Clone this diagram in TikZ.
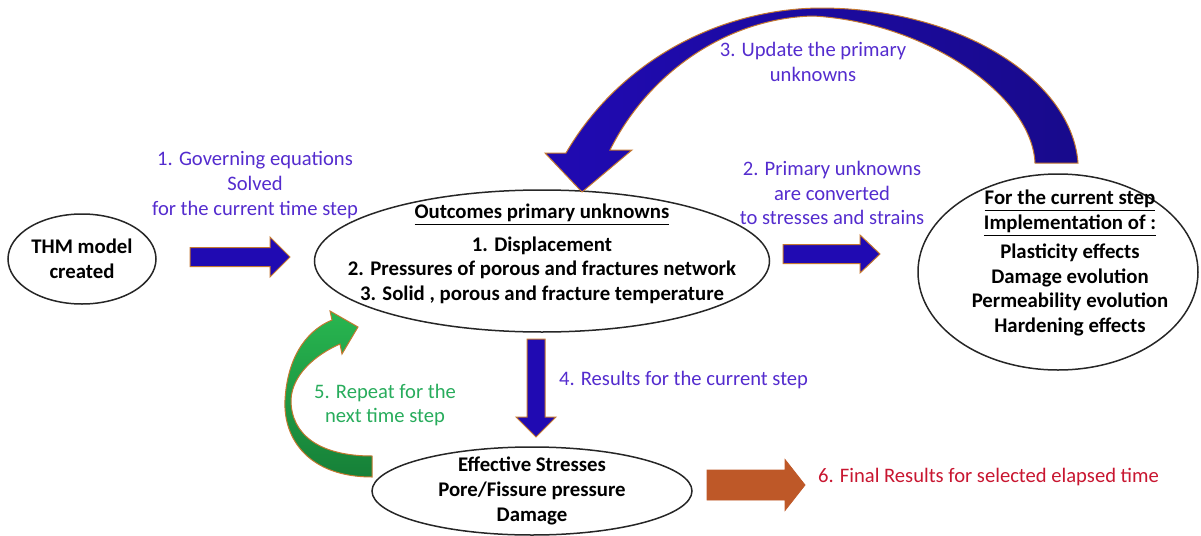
\documentclass[tikz,border=0pt]{standalone}
\usepackage{fontspec}
\setmainfont{Carlito}
\usetikzlibrary{shapes.geometric}
\definecolor{arrowblue}{RGB}{32,10,178}
\definecolor{arrowdeep}{RGB}{24,10,140}
\definecolor{rimorange}{RGB}{196,120,48}
\definecolor{labelblue}{RGB}{84,44,206}
\definecolor{labelgreen}{RGB}{40,172,92}
\definecolor{labelred}{RGB}{200,22,48}
\definecolor{resultbrown}{RGB}{190,88,40}
\definecolor{greentop}{RGB}{40,182,80}
\definecolor{greenbot}{RGB}{22,128,56}
% straight block arrow: style, tail point, angle, length, shaft half, head half
\newcommand{\blockarrow}[6]{%
 \draw[#1,shift={#2},rotate=#3] (0,-#5) -- (#4-20,-#5) -- (#4-20,-#6) -- (#4,0)
   -- (#4-20,#6) -- (#4-20,#5) -- (0,#5) -- cycle;}

\begin{document}
\begin{tikzpicture}[x=0.5pt,y=-0.5pt,font=\fontsize{10.3}{12.3}\selectfont,
  oval/.style={ellipse,draw=black!85,line width=0.75pt,inner sep=0pt},
  stage/.style={align=center,font=\fontsize{10.4}{12.3}\selectfont\bfseries},
  note/.style={align=center,text=labelblue},
  rim/.style={draw=rimorange,line width=0.5pt}]
 \useasboundingbox (0,0) rectangle (1201,536);
 % stages
 \node[oval,minimum width=74pt,minimum height=45pt] (thm) at (82,259) {};
 \node[stage] (thmtext) at (thm.center) {THM model\\created};
 \node[oval,minimum width=227.5pt,minimum height=71pt] (outcomes) at (542,261) {};
 \node[stage] (outcomestext) at (542,254) {\underline{Outcomes primary unknowns}\\[4pt]1. Displacement\\2. Pressures of porous and fractures network\\3. Solid , porous and fracture temperature};
 \node[oval,minimum width=140pt,minimum height=98pt] (current) at (1058,272) {};
 \node[stage] (currenttext) at (1070,263) {\underline{For the current step}\\\underline{Implementation of :}\\[2.5pt]Plasticity effects\\Damage evolution\\Permeability evolution\\Hardening effects};
 \node[oval,minimum width=160pt,minimum height=44pt] (results) at (532,491) {};
 \node[stage] (resultstext) at (results.center) {Effective Stresses\\Pore/Fissure pressure\\Damage};
 % labels
 \node[note] (solve) at (255,185) {1. Governing equations\\Solved\\for the current time step};
 \node[note] (convert) at (832,193) {2. Primary unknowns\\are converted\\to stresses and strains};
 \node[note] (update) at (813,62) {3. Update the primary\\unknowns};
 \node[note,anchor=west] (stepnote) at (552,380) {4. Results for the current step};
 \node[note,text=labelgreen] (repeat) at (385,405) {5. Repeat for the\\next time step};
 \node[note,text=labelred,anchor=west] (final) at (811,477) {6. Final Results for selected elapsed time};
 % straight arrows
 \coordinate (a1) at (190,257);
 \coordinate (a2) at (783,254);
 \coordinate (a4) at (536,339);
 \coordinate (a6) at (707,485);
 \blockarrow{rim,fill=arrowblue}{(a1)}{0}{100}{9.5}{20}
 \blockarrow{rim,fill=arrowblue}{(a2)}{0}{97}{9.5}{19}
 \blockarrow{rim,fill=arrowblue}{(a4)}{-90}{98}{9}{20}
 \blockarrow{draw=resultbrown,fill=resultbrown}{(a6)}{0}{98}{15}{25.5}
 % update loop
 \draw[rim,left color=arrowblue,right color=arrowdeep] (1078,163) .. controls (1072,80) and (960,8) .. (820,8)
   .. controls (720,9) and (620,60) .. (566,153) -- (545,153) -- (582,192) -- (632,150) -- (610,150)
   .. controls (650,70) and (730,18) .. (813,16) .. controls (925,22) and (1032,95) .. (1035,163) -- cycle;
 % repeat loop
 \draw[rim,top color=greentop,bottom color=greenbot] (372,477) .. controls (310,477) and (283,440) .. (285,400)
   .. controls (287,362) and (303,332) .. (332,320) -- (330,311) -- (358,327) -- (342,354) -- (340,344)
   .. controls (315,355) and (292,375) .. (291,400) .. controls (291,435) and (320,456) .. (372,456) -- cycle;
\end{tikzpicture}
\end{document}
